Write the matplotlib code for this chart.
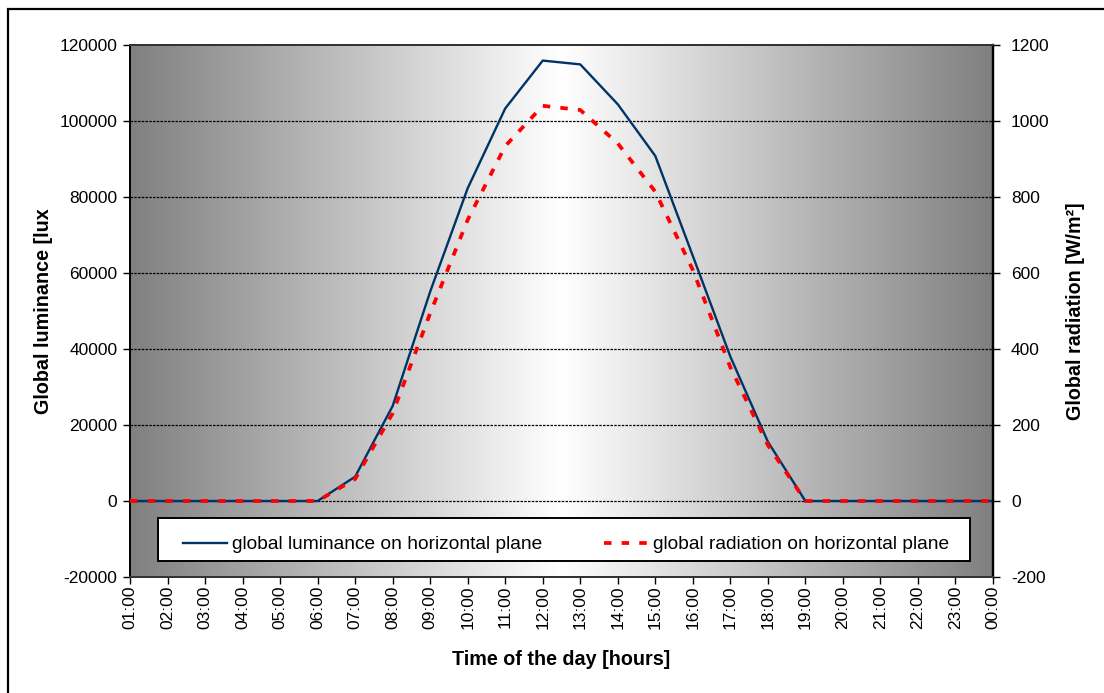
import numpy as np
import matplotlib
matplotlib.use("Agg")
import matplotlib.pyplot as plt
from matplotlib.lines import Line2D
from matplotlib.patches import Rectangle

plt.rcParams['font.family'] = ['Liberation Sans', 'DejaVu Sans']
plt.rcParams['axes.unicode_minus'] = False

hours = ["01:00", "02:00", "03:00", "04:00", "05:00", "06:00", "07:00", "08:00",
         "09:00", "10:00", "11:00", "12:00", "13:00", "14:00", "15:00", "16:00",
         "17:00", "18:00", "19:00", "20:00", "21:00", "22:00", "23:00", "00:00"]
luminance = [0, 0, 0, 0, 0, 0, 6400, 25000, 55100, 82300, 103300, 115900,
             114900, 104400, 90800, 64500, 38000, 15600, 0, 0, 0, 0, 0, 0]
radiation = [0, 0, 0, 0, 0, 0, 58, 231, 494, 740, 934, 1040,
             1029, 941, 814, 608, 352, 147, 0, 0, 0, 0, 0, 0]

W, H = 1104, 693
fig = plt.figure(figsize=(W / 100, H / 100), dpi=100)

# outer border
fig.patches.append(Rectangle((8 / W, -0.05), 1.2, (H - 9) / H + 0.05, transform=fig.transFigure,
                             fill=False, edgecolor='black', linewidth=1.6))

L, R, T, B = 130, 993, 45, 577
ax = fig.add_axes([L / W, (H - B) / H, (R - L) / W, (B - T) / H])
x = np.arange(len(hours))
ax.set_xlim(0, len(hours) - 1)
ax.set_ylim(-20000, 120000)

# gradient background
gx = np.linspace(0, 1, 600)
shade = 128 + 127 * (1 - np.abs(gx - 0.5) * 2)
img = np.repeat((shade / 255.0)[None, :, None], 3, axis=2)
ax.imshow(img, extent=(0, len(hours) - 1, -20000, 120000), aspect='auto', zorder=0,
          interpolation='bilinear')

for yv in range(0, 120000, 20000):
    ax.axhline(yv, color='black', linewidth=0.9, linestyle=(0, (2, 1)), zorder=1)

ax.plot(x, luminance, color='#003366', linewidth=1.7, zorder=3)

TICK_FS = 12.5
LAB_FS = 14.2
ax.set_yticks(range(-20000, 120001, 20000))
ax.set_xticks(x)
ax.set_xticklabels(hours, rotation=90, fontsize=TICK_FS)
ax.tick_params(axis='y', labelsize=TICK_FS, length=5, width=1, direction='out', pad=4)
ax.tick_params(axis='x', length=5, width=1, direction='out', pad=1)
ax.set_ylabel("Global luminance [lux", fontsize=LAB_FS, fontweight='bold', labelpad=5)
ax.set_xlabel("Time of the day [hours]", fontsize=LAB_FS, fontweight='bold', labelpad=15)

ax2 = ax.twinx()
ax2.set_ylim(-200, 1200)
ax2.set_yticks(range(-200, 1201, 200))
ax2.tick_params(axis='y', labelsize=TICK_FS, length=5, width=1, direction='out', pad=8)
ax2.plot(x, radiation, color='#ff0000', linewidth=2.7, linestyle=(0, (2.0, 2.7)),
         dash_capstyle='butt', zorder=4)
ax2.set_ylabel("Global radiation [W/m²]", fontsize=LAB_FS, fontweight='bold', labelpad=12)
ax2.yaxis.label.set_rotation(90)

for a in (ax, ax2):
    for s in ('top', 'bottom'):
        a.spines[s].set_color('#333333')
        a.spines[s].set_linewidth(1.4)
    a.spines['left'].set_linewidth(1.2)
    a.spines['right'].set_linewidth(1.6)

# legend frame
fx0 = (158 - L) / (R - L)
fw = (970 - 158) / (R - L)
fy0 = (B - 561) / (B - T)
fh = (561 - 518) / (B - T)
ax2.add_patch(Rectangle((fx0, fy0), fw, fh, transform=ax2.transAxes, facecolor='white',
                        edgecolor='black', linewidth=1.4, zorder=5))

handles = [Line2D([], [], color='#003366', linewidth=1.7),
           Line2D([], [], color='#ff0000', linewidth=2.7, linestyle=(0, (2.0, 2.7)),
                  dash_capstyle='butt')]
labels = ["global luminance on horizontal plane", "global radiation on horizontal plane"]
lx0 = (183 - L) / (R - L)
lw_ = (949 - 183) / (R - L)
ly0 = (B - 566) / (B - T)
leg = ax2.legend(handles, labels, ncol=2, mode='expand', loc='center',
                 bbox_to_anchor=(lx0, ly0, lw_, fh), fontsize=13.8, frameon=False,
                 handlelength=2.3, borderpad=0, handletextpad=0.27, borderaxespad=0)
leg.set_zorder(6)

fig.savefig("out.png", dpi=100)
